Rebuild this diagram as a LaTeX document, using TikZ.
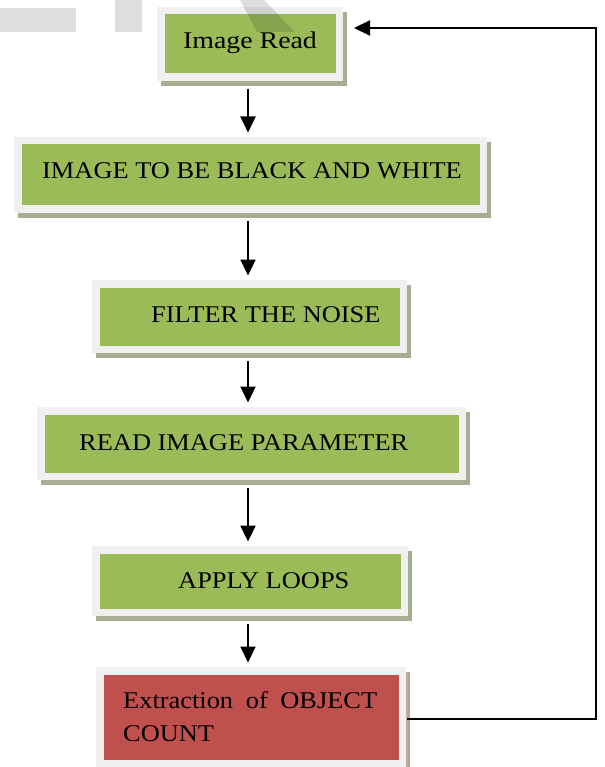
\documentclass[tikz,border=0pt]{standalone}
\usepackage{fontspec}
\setmainfont{Liberation Serif}[FakeStretch=1.10]
\usetikzlibrary{calc,shadows,arrows.meta}

\definecolor{stepgreen}{HTML}{9BBB59}
\definecolor{stepred}{HTML}{C0504D}
\definecolor{framegray}{HTML}{F0F0F0}
\definecolor{shadegreen}{HTML}{A6AE91}
\definecolor{shadered}{HTML}{CDA3A3}

\tikzset{
  stepbox/.style={rectangle, fill=stepgreen, draw=framegray, line width=7.5pt,
    inner sep=0pt,
    drop shadow={shadow xshift=4pt, shadow yshift=-5pt, fill=shadegreen,
      draw=shadegreen, line width=7.5pt, opacity=1}},
  endbox/.style={stepbox, fill=stepred,
    drop shadow={shadow xshift=2pt, shadow yshift=-5pt, fill=shadered,
      draw=shadered, line width=7.5pt, opacity=1}},
  steptext/.style={anchor=base west, inner sep=0pt, font=\fontsize{24}{28}\selectfont},
  flow/.style={line width=2.3pt, -{Triangle[length=16pt,width=15pt]}},
  back/.style={line width=2pt, -{Triangle[length=16pt,width=15pt]}},
  faint/.style={fill=black, opacity=0.13},
}

\begin{document}
\begin{tikzpicture}[x=1pt,y=-1pt]
\useasboundingbox (0,0) rectangle (604,767);

% process steps
\node[stepbox, minimum width=178.5pt, minimum height=66.5pt] (b1) at (250,44) {};
\node[stepbox, minimum width=465.5pt, minimum height=68.5pt] (b2) at (250.5,175) {};
\node[stepbox, minimum width=307.5pt, minimum height=65.5pt] (b3) at (249.5,316.5) {};
\node[stepbox, minimum width=421.5pt, minimum height=65.5pt] (b4) at (251.5,443.5) {};
\node[stepbox, minimum width=308.5pt, minimum height=62.5pt] (b5) at (250,581) {};
\node[endbox, minimum width=302.5pt, minimum height=92.5pt] (b6) at (251,717) {};

% step texts
\node[steptext] (t1) at (183,49) {\addfontfeature{FakeStretch=1.16}Image Read};
\node[steptext] (t2) at (42,179) {IMAGE TO BE BLACK AND WHITE};
\node[steptext] (t3) at (151,322) {FILTER THE NOISE};
\node[steptext] (t4) at (79,450) {READ IMAGE PARAMETER};
\node[steptext] (t5) at (178,588) {APPLY LOOPS};
\node[steptext] (t6a) at (123,708) {\makebox[254pt][s]{Extraction\hfill of\hfill OBJECT}};
\node[steptext] (t6b) at (123,741) {COUNT};

% vertical flow
\coordinate (axis) at (248,0);
\draw[flow] ($(b1.south -| axis)+(0,8)$) -- ($(b2.north -| axis)+(0,-4.5)$);
\draw[flow] ($(b2.south -| axis)+(0,8)$) -- ($(b3.north -| axis)+(0,-4.5)$);
\draw[flow] ($(b3.south -| axis)+(0,8)$) -- ($(b4.north -| axis)+(0,-4.5)$);
\draw[flow] ($(b4.south -| axis)+(0,8)$) -- ($(b5.north -| axis)+(0,-4.5)$);
\draw[flow] ($(b5.south -| axis)+(0,8)$) -- ($(b6.north -| axis)+(0,-4.5)$);

% feedback loop
\coordinate (fbtop) at (596,28);
\draw[back] ($(b6.east)+(1,2)$) -| (fbtop) -- ($(b1.east |- fbtop)+(11,0)$);

% faint marks at the top
\fill[faint] (0,8) rectangle (76,32);
\fill[faint] (115,0) rectangle (142,32);
\fill[faint] (240,0) -- (264,0) -- (295,32) -- (257,32) -- cycle;
\end{tikzpicture}
\end{document}
